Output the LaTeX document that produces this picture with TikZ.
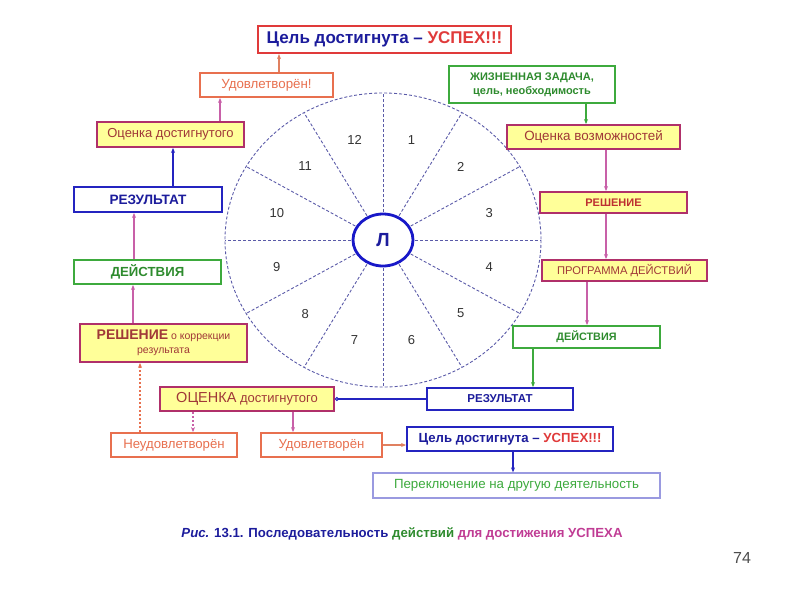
\documentclass[tikz,border=0pt]{standalone}
\usepackage{fontspec}
\setmainfont{Liberation Sans}
\usetikzlibrary{calc,arrows.meta,shapes.geometric}

\definecolor{redbox}{HTML}{E03A3A}
\definecolor{orangebox}{HTML}{E8704F}
\definecolor{greenbox}{HTML}{3DAA3D}
\definecolor{greentext}{HTML}{2E8B2E}
\definecolor{magbox}{HTML}{B0306A}
\definecolor{yellowfill}{HTML}{FFFF99}
\definecolor{darkred}{HTML}{A03838}
\definecolor{bluebox}{HTML}{2424C0}
\definecolor{bluetext}{HTML}{1C1C9C}
\definecolor{lavbox}{HTML}{9A9AE0}
\definecolor{arrmag}{HTML}{C860A8}
\definecolor{captmag}{HTML}{C03C94}
\definecolor{arrorange}{HTML}{E08060}
\definecolor{wheelc}{HTML}{5A5AA8}
\definecolor{innerblue}{HTML}{1818C8}

\newcommand{\fsz}[1]{\fontsize{#1}{#1}\selectfont}

\tikzset{
  box/.style={draw, line width=1.8pt, inner sep=0pt, align=center, fill=white},
  sz/.style 2 args={minimum width=#1pt, minimum height=#2pt},
  redframe/.style={box, draw=redbox},
  orangeframe/.style={box, draw=orangebox, text=orangebox, font=\fsz{12.5}},
  greenframe/.style={box, draw=greenbox, text=greentext, font=\fsz{11}\bfseries},
  yellowframe/.style={box, draw=magbox, fill=yellowfill, text=darkred, font=\fsz{12.5}},
  blueframe/.style={box, draw=bluebox, text=bluetext, font=\fsz{11}\bfseries},
  arr/.style={-{Stealth[length=5pt,width=4pt]}, line width=1.1pt},
  fine dash/.style={dash pattern=on 2.5pt off 1.5pt},
  spoke/.style={draw=wheelc, line width=0.9pt, dash pattern=on 3pt off 2pt},
  num/.style={font=\fsz{13}, text=black!80}
}

\begin{document}
\begin{tikzpicture}[x=1pt,y=-1pt]
\useasboundingbox (0,0) rectangle (800,600);

% wheel
\coordinate (c) at (383,240);
\draw[spoke] (c) ellipse [x radius=158, y radius=147];
\foreach \a in {0,30,...,330}
  \draw[spoke] ($(c)+(\a:32 and 28)$) -- ($(c)+(\a:158 and 147)$);
\foreach \n in {1,...,12}
  \node[num] (n\n) at ($(c)+({30*\n-105}:110 and 104)$) {\n};
\node[ellipse, draw=innerblue, line width=2.8pt, fill=white, minimum width=60pt,
  minimum height=52pt, text=bluetext, font=\fsz{19}\bfseries] (L) at (c) {Л};

% left column
\node[redframe, sz={253}{27}, line width=2.2pt] (topgoal) at (384.5,39.5)
  {\fsz{17}\bfseries\textcolor{bluetext}{Цель достигнута –} \textcolor{redbox}{УСПЕХ!!!}};
\node[orangeframe, sz={133}{24}, font=\fsz{13.3}] (sat1) at (266.5,85) {Удовлетворён!};
\node[yellowframe, sz={147}{25}, font=\fsz{13}] (assessL) at (170.5,134.5) {Оценка достигнутого};
\node[blueframe, sz={148}{25}, font=\fsz{13.6}\bfseries] (resultL) at (148,199.5) {РЕЗУЛЬТАТ};
\node[greenframe, sz={147}{24}, font=\fsz{13.2}\bfseries] (actionsL) at (147.5,272) {ДЕЙСТВИЯ};
\node[yellowframe, sz={167}{38}, font=\fsz{10.5}] (correct) at (163.5,343)
  {{\fsz{14}\bfseries РЕШЕНИЕ} о коррекции\\[3pt]результата};
\node[orangeframe, sz={126}{24}, font=\fsz{13.2}] (unsat) at (174,445) {Неудовлетворён};
\node[yellowframe, sz={174}{24}, font=\fsz{13}] (assessR) at (247,399)
  {{\fsz{14.5}ОЦЕНКА} достигнутого};
\node[orangeframe, sz={121}{24}, font=\fsz{13.2}] (sat2) at (321.5,445) {Удовлетворён};

% right column
\node[greenframe, sz={166}{37}, font=\fsz{11}\bfseries] (lifetask) at (532,84.5)
  {ЖИЗНЕННАЯ ЗАДАЧА,\\[3pt]цель, необходимость};
\node[yellowframe, sz={173}{24}, font=\fsz{13.4}] (assessposs) at (593.5,137) {Оценка возможностей};
\node[yellowframe, sz={147}{21}, font=\fsz{11}\bfseries, text=redbox!85!black] (decision) at (613.5,202.5) {РЕШЕНИЕ};
\node[yellowframe, sz={165}{21}, font=\fsz{11.2}] (program) at (624.5,270.5) {ПРОГРАММА ДЕЙСТВИЙ};
\node[greenframe, sz={147}{22}, font=\fsz{10.8}\bfseries] (actionsR) at (586.5,337) {ДЕЙСТВИЯ};
\node[blueframe, sz={146}{22}, font=\fsz{11.5}\bfseries] (resultR) at (500,399) {РЕЗУЛЬТАТ};
\node[box, draw=bluebox, sz={206}{24}] (goal2) at (510,439)
  {\fsz{13.2}\bfseries\textcolor{bluetext}{Цель достигнута –} \textcolor{redbox}{УСПЕХ!!!}};
\node[box, draw=lavbox, line width=1.3pt, sz={287}{25}, text=greenbox, font=\fsz{13.3}] (switch) at (516.5,485.5)
  {Переключение на другую деятельность};

% connectors
\draw[arr, arrorange] ([xshift=12.5pt]sat1.north) -- ([xshift=12.5pt]sat1.north |- topgoal.south);
\draw[arr, arrmag] ([xshift=49.5pt]assessL.north) -- ([xshift=49.5pt]assessL.north |- sat1.south);
\draw[arr, bluebox] ([xshift=25pt]resultL.north) -- ([xshift=25pt]resultL.north |- assessL.south);
\draw[arr, arrmag] ([xshift=-13.5pt]actionsL.north) -- ([xshift=-13.5pt]actionsL.north |- resultL.south);
\draw[arr, arrmag] ([xshift=-30.5pt]correct.north) -- ([xshift=-30.5pt]correct.north |- actionsL.south);
\draw[arr, orangebox, fine dash] ([xshift=-34pt]unsat.north) -- ([xshift=-34pt]unsat.north |- correct.south);
\draw[arr, arrmag, fine dash] ([xshift=-54pt]assessR.south) -- ([xshift=-54pt]assessR.south |- unsat.north);
\draw[arr, arrmag] ([xshift=46pt]assessR.south) -- ([xshift=46pt]assessR.south |- sat2.north);
\draw[arr, arrorange] (sat2.east) -- (sat2.east -| goal2.west);
\draw[arr, bluebox] ([xshift=3pt]goal2.south) -- ([xshift=3pt]goal2.south |- switch.north);
\draw[-{Circle[open,length=4pt]}, line width=1.1pt, bluebox] (resultR.west) -- (assessR.east);
\draw[arr, greenbox] ([xshift=-53.5pt]actionsR.south) -- ([xshift=-53.5pt]actionsR.south |- resultR.north);
\draw[arr, arrmag] ([xshift=-37.5pt]program.south) -- ([xshift=-37.5pt]program.south |- actionsR.north);
\draw[arr, arrmag] ([xshift=-7.5pt]decision.south) -- ([xshift=-7.5pt]decision.south |- program.north);
\draw[arr, arrmag] ([xshift=12.5pt]assessposs.south) -- ([xshift=12.5pt]assessposs.south |- decision.north);
\draw[arr, greenbox] ([xshift=54pt]lifetask.south) -- ([xshift=54pt]lifetask.south |- assessposs.north);

% caption
\node[font=\fsz{13.2}\bfseries] (caption) at (402,534)
  {\textcolor{bluetext}{\textit{Рис.} 13.1. Последовательность} \textcolor{greentext}{действий}
   \textcolor{captmag}{для достижения УСПЕХА}};
\node[font=\fsz{16}, text=black!70] (page) at (742,558) {74};

\end{tikzpicture}
\end{document}
